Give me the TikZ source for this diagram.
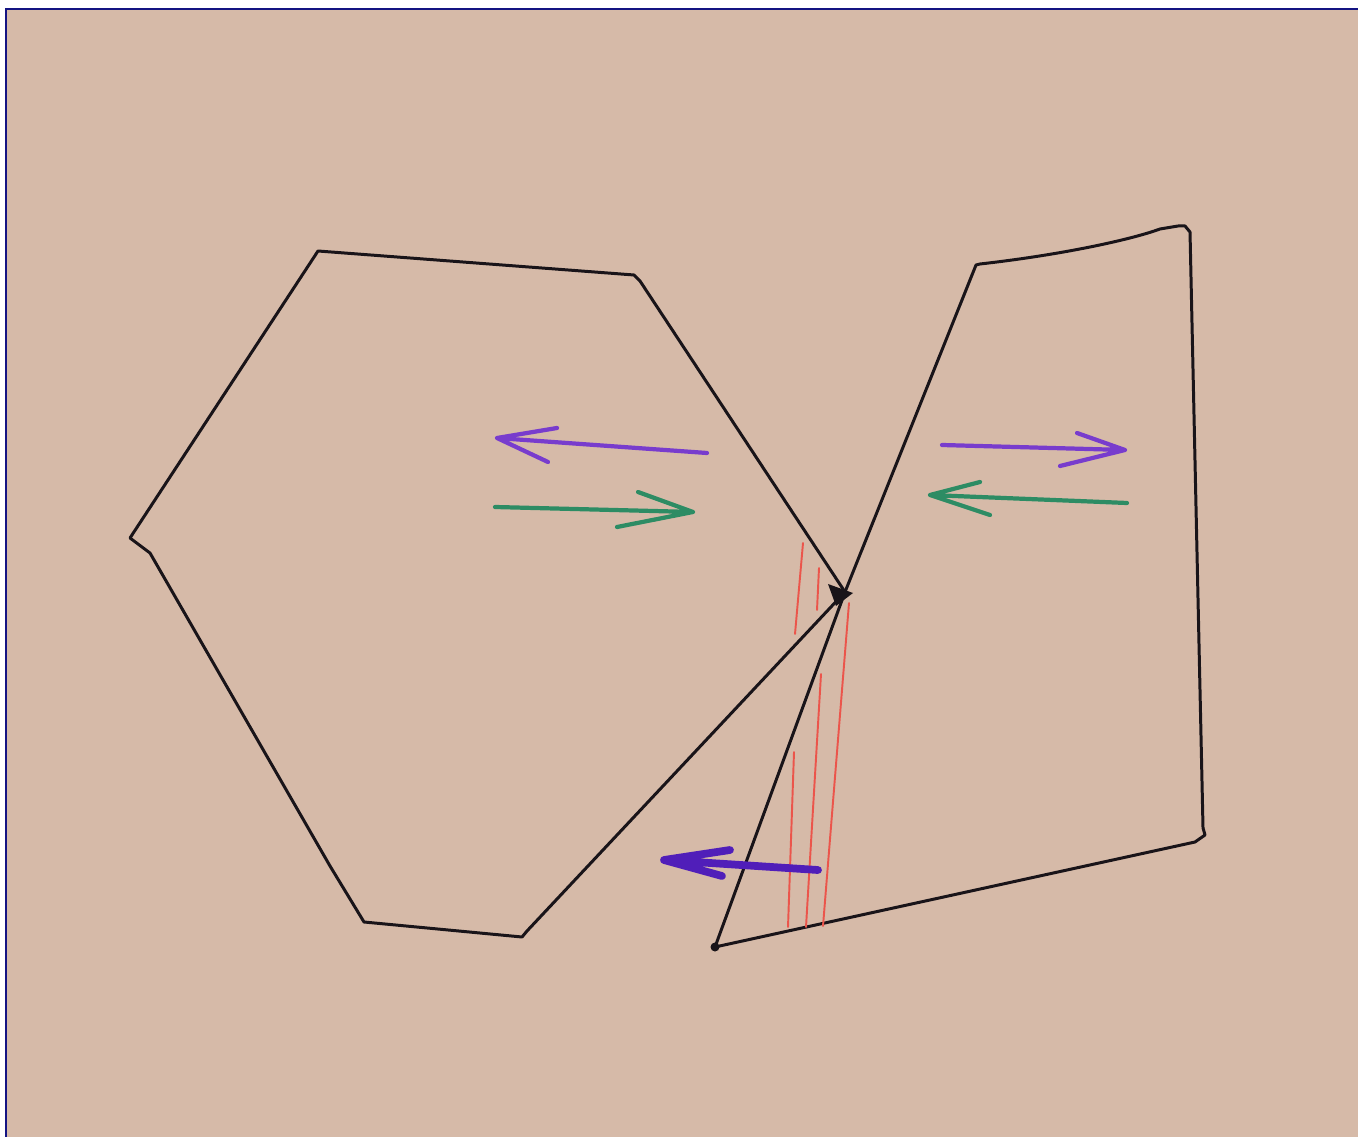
\documentclass[tikz,border=0pt]{standalone}
\usepackage{xcolor}
\definecolor{paper}{RGB}{214,186,168}
\definecolor{navyb}{RGB}{20,20,130}
\definecolor{penviolet}{RGB}{120,60,205}
\definecolor{pengreen}{RGB}{45,140,100}
\definecolor{pendeep}{RGB}{80,30,185}
\definecolor{penred}{RGB}{235,85,75}
\definecolor{ink}{RGB}{25,20,25}
\begin{document}
\begin{tikzpicture}[x=0.01cm,y=-0.01cm,
  inkline/.style={draw=ink, line width=0.85pt, line join=round, line cap=round},
  arr/.style={line width=1.2pt, line cap=round, line join=round},
  redline/.style={draw=penred, line width=0.55pt, line cap=round}]
\useasboundingbox (0,0) rectangle (1358,1137);
\fill[white] (0,0) rectangle (1358,1137);
\fill[paper] (6,9) rectangle (1358,1137);
\draw[navyb, line width=0.7pt] (6,1137) -- (6,9) -- (1358,9);

% hexagon-like shape
\coordinate (h1) at (318,251);
\coordinate (h2) at (634,275);
\coordinate (h3) at (845,592);
\coordinate (h4) at (522,937);
\coordinate (h5) at (364,922);
\coordinate (h6) at (330,866);
\coordinate (h7) at (150,553);
\coordinate (h8) at (130,538);
\draw[inkline] (h1) -- (h2) -- (640,281) -- (h3) -- (527,931) -- (h4) -- (h5) -- (h6) -- (h7) -- (h8) -- cycle;

% quadrilateral
\coordinate (q1) at (976,265);
\coordinate (q2) at (1185,226);
\coordinate (q3) at (1205,835);
\coordinate (q4) at (715,947);
\draw[inkline] (q4) -- (h3) -- (q1) -- (980,264) .. controls (1060,255) and (1130,240) .. (1160,229) -- (1178,226) -- (q2) -- (1190,232) -- (1203,828) -- (q3) -- (1195,842) -- (q4);
\fill[ink] (828,584) -- (853,593) -- (836,606) -- cycle;
\fill[ink] (q4) circle (4.5);

% red lines
\draw[redline] (803,543) -- (795,634);
\draw[redline] (794,752) -- (788,927);
\draw[redline] (819,568) -- (817,610);
\draw[redline] (821,674) -- (806,927);
\draw[redline] (849,603) -- (823,926);

% arrows in left shape
\coordinate (pa1) at (707,453);
\coordinate (pa2) at (497,438);
\draw[arr, draw=penviolet] (pa1) -- (pa2) (557,428) -- (pa2) -- (548,462);
\coordinate (ga1) at (495,507);
\coordinate (ga2) at (693,512);
\draw[arr, draw=pengreen] (ga1) -- (ga2) (638,492) -- (ga2) -- (617,527);

% arrows in right shape
\coordinate (pb1) at (942,445);
\coordinate (pb2) at (1125,450);
\draw[arr, draw=penviolet] (pb1) -- (pb2) (1077,433) -- (pb2) -- (1060,466);
\coordinate (gb1) at (1127,503);
\coordinate (gb2) at (930,495);
\draw[arr, draw=pengreen] (gb1) -- (gb2) (980,482) -- (gb2) -- (990,515);

% bold arrow at bottom
\coordinate (da1) at (818,870);
\coordinate (da2) at (664,860);
\draw[line width=2.2pt, draw=pendeep, line cap=round, line join=round] (da1) -- (da2) (730,850) -- (da2) -- (722,876);
\end{tikzpicture}
\end{document}
